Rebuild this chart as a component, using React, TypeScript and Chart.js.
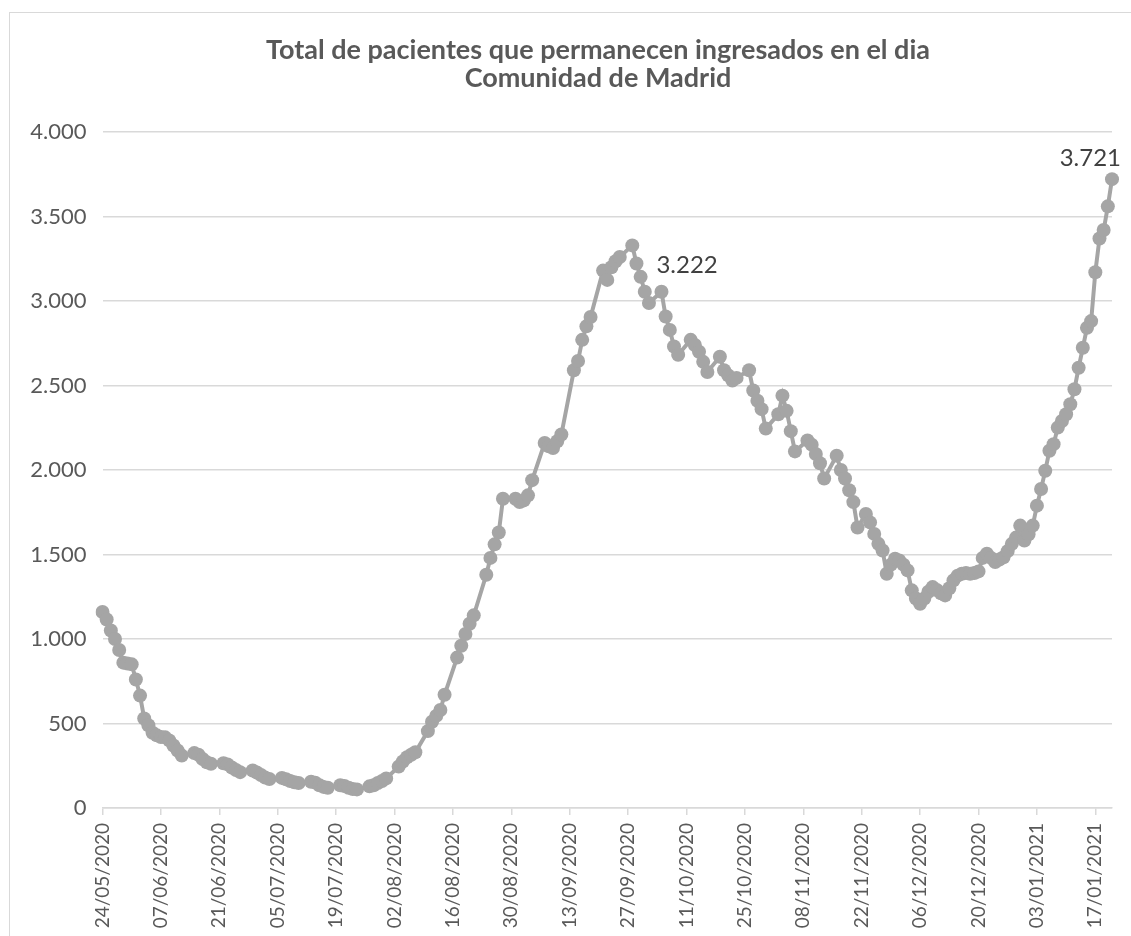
import React, { useEffect, useRef } from "react";
import { Chart, registerables } from "chart.js";

Chart.register(...registerables);

// ---------- text ----------
const TITLE_LINES = [
  "Total de pacientes que permanecen ingresados en el dia",
  "Comunidad de Madrid",
];

// ---------- categories ----------
const START_DAY = { year: 2020, month: 5, day: 24 }; // 24/05/2020, one category per day
const LABEL_EVERY = 14; // a tick label every 14 days

// ---------- y axis ----------
const Y_MIN = 0;
const Y_MAX = 4000;
const Y_STEP = 500;

// ---------- series: patients in hospital (null = no report that day) ----------
const ingresados: (number | null)[] = [
  // 24/05 - 30/05
  1160, 1115, 1050, 1000, 935, 860, 855,
  // 31/05 - 06/06
  850, 760, 665, 530, 490, 445, 430,
  // 07/06 - 13/06
  420, 418, 400, 370, 340, 310, null,
  // 14/06 - 20/06
  null, 325, 315, 290, 270, 262, null,
  // 21/06 - 27/06
  null, 265, 258, 240, 225, 212, null,
  // 28/06 - 04/07
  null, 222, 210, 195, 180, 172, null,
  // 05/07 - 11/07
  null, 178, 170, 160, 152, 148, null,
  // 12/07 - 18/07
  null, 155, 150, 135, 125, 120, null,
  // 19/07 - 25/07
  null, 135, 130, 120, 112, 110, null,
  // 26/07 - 01/08
  null, 128, 135, 148, 160, 175, null,
  // 02/08 - 08/08
  null, 245, 275, 300, 315, 330, null,
  // 09/08 - 15/08
  null, 455, 510, 545, 580, 670, null,
  // 16/08 - 22/08
  null, 890, 960, 1030, 1090, 1140, null,
  // 23/08 - 29/08
  null, 1380, 1480, 1560, 1630, 1830, null,
  // 30/08 - 05/09
  null, 1830, 1810, 1820, 1850, 1940, null,
  // 06/09 - 12/09
  null, 2160, 2140, 2130, 2170, 2210, null,
  // 13/09 - 19/09
  null, 2590, 2645, 2770, 2850, 2905, null,
  // 20/09 - 26/09
  null, 3180, 3125, 3200, 3235, 3260, null,
  // 27/09 - 03/10
  null, 3329, 3222, 3143, 3055, 2988, null,
  // 04/10 - 10/10
  null, 3055, 2908, 2829, 2731, 2682, null,
  // 11/10 - 17/10
  null, 2770, 2740, 2700, 2640, 2580, null,
  // 18/10 - 24/10
  null, 2670, 2590, 2560, 2530, 2545, null,
  // 25/10 - 31/10
  null, 2590, 2470, 2410, 2360, 2245, null,
  // 01/11 - 07/11
  null, 2330, 2440, 2350, 2230, 2110, null,
  // 08/11 - 14/11
  null, 2175, 2150, 2095, 2040, 1950, null,
  // 15/11 - 21/11
  null, 2085, 2000, 1950, 1880, 1810, 1660,
  // 22/11 - 28/11
  null, 1740, 1690, 1622, 1563, 1524, 1386,
  // 29/11 - 05/12
  1440, 1475, 1465, 1440, 1406, 1288, 1240,
  // 06/12 - 12/12
  1209, 1240, 1280, 1307, 1290, 1270, 1258,
  // 13/12 - 19/12
  1300, 1347, 1375, 1386, 1390, 1386, 1390,
  // 20/12 - 26/12
  1400, 1480, 1504, 1480, 1455, 1470, 1484,
  // 27/12 - 02/01
  1520, 1563, 1600, 1671, 1583, 1620, 1671,
  // 03/01 - 09/01
  1789, 1888, 1996, 2114, 2153, 2251, 2290,
  // 10/01 - 16/01
  2330, 2389, 2478, 2605, 2723, 2841, 2881,
  // 17/01 - 21/01
  3170, 3370, 3420, 3560, 3721,
];

// data labels shown on the chart
const LABELLED_INDEX = [128, 242];
const LABELLED_POSITION = ["right", "above"];

// ---------- styling ----------
const FONT = "Lato, 'Open Sans', sans-serif";
const TEXT_COLOR = "#595959";
const LINE_COLOR = "#A5A5A5";
const GRID_COLOR = "#D9D9D9";

function pad2(n: number) {
  return n < 10 ? "0" + n : String(n);
}

function buildDateLabels(count: number): string[] {
  const out: string[] = [];
  for (let i = 0; i < count; i++) {
    const d = new Date(Date.UTC(START_DAY.year, START_DAY.month - 1, START_DAY.day + i));
    out.push(pad2(d.getUTCDate()) + "/" + pad2(d.getUTCMonth() + 1) + "/" + d.getUTCFullYear());
  }
  return out;
}

function fmtThousands(n: number): string {
  return String(Math.round(n)).replace(/\B(?=(\d{3})+(?!\d))/g, ".");
}

export default function App() {
  const canvasRef = useRef<HTMLCanvasElement | null>(null);

  useEffect(() => {
    const canvas = canvasRef.current;
    if (!canvas) return;
    const labels = buildDateLabels(ingresados.length);

    const titlePlugin = {
      id: "excelTitle",
      afterDraw(chart: any) {
        const ctx = chart.ctx;
        ctx.save();
        ctx.fillStyle = TEXT_COLOR;
        ctx.font = `bold 27px ${FONT}`;
        ctx.textAlign = "center";
        ctx.textBaseline = "middle";
        ctx.fillText(TITLE_LINES[0], 598, 50);
        ctx.fillText(TITLE_LINES[1], 598, 78);
        ctx.restore();
      },
    };

    const dataLabelPlugin = {
      id: "pointLabels",
      afterDatasetsDraw(chart: any) {
        const meta = chart.getDatasetMeta(0);
        const ctx = chart.ctx;
        ctx.save();
        ctx.fillStyle = "#404040";
        ctx.font = `24px ${FONT}`;
        ctx.textBaseline = "middle";
        LABELLED_INDEX.forEach((idx, k) => {
          const pt = meta.data[idx];
          const v = ingresados[idx];
          if (!pt || v == null) return;
          const txt = fmtThousands(v);
          if (LABELLED_POSITION[k] === "right") {
            ctx.textAlign = "left";
            ctx.fillText(txt, pt.x + 20, pt.y + 2);
          } else {
            ctx.textAlign = "right";
            ctx.fillText(txt, pt.x + 9, pt.y - 21);
          }
        });
        ctx.restore();
      },
    };

    const chart = new Chart(canvas, {
      type: "line",
      data: {
        labels,
        datasets: [
          {
            label: "Ingresados",
            data: ingresados,
            borderColor: LINE_COLOR,
            backgroundColor: LINE_COLOR,
            borderWidth: 4,
            pointRadius: 7,
            pointBorderWidth: 0,
            pointBackgroundColor: LINE_COLOR,
            pointHoverRadius: 7,
            spanGaps: true,
            tension: 0,
          },
        ],
      },
      options: {
        responsive: false,
        animation: false,
        devicePixelRatio: 1,
        layout: { padding: { top: 132, right: 19, left: 0, bottom: 0 } },
        plugins: {
          legend: { display: false },
          title: { display: false },
          tooltip: { enabled: false },
        },
        scales: {
          x: {
            type: "category",
            offset: false,
            border: { display: true, color: GRID_COLOR, width: 1.5 },
            grid: {
              drawOnChartArea: false,
              drawTicks: true,
              tickLength: 7,
              lineWidth: 1.5,
              color: (c: any) => (c.index % LABEL_EVERY === 0 ? GRID_COLOR : "rgba(0,0,0,0)"),
            },
            ticks: {
              autoSkip: false,
              minRotation: 90,
              maxRotation: 90,
              padding: 8,
              color: TEXT_COLOR,
              font: { family: FONT, size: 19 },
              callback: (_v: any, i: number) => (i % LABEL_EVERY === 0 ? labels[i] : ""),
            },
            afterFit: (scale: any) => {
              scale.height = 128;
              scale.paddingLeft = 0;
              scale.paddingRight = 0;
            },
          },
          y: {
            min: Y_MIN,
            max: Y_MAX,
            border: { display: false },
            grid: { color: GRID_COLOR, lineWidth: 1.5, drawTicks: false },
            ticks: {
              stepSize: Y_STEP,
              padding: 16,
              color: TEXT_COLOR,
              font: { family: FONT, size: 22 },
              callback: (v: any) => fmtThousands(Number(v)),
            },
            afterFit: (scale: any) => {
              scale.width = 102.5;
            },
          },
        },
      },
      plugins: [titlePlugin, dataLabelPlugin],
    } as any);

    return () => chart.destroy();
  }, []);

  return (
    <div
      style={{
        position: "fixed",
        left: 0,
        top: 0,
        width: 1131,
        height: 936,
        overflow: "hidden",
        background: "#ffffff",
      }}
    >
      <div
        style={{
          position: "absolute",
          left: 9,
          top: 12,
          width: 1200,
          height: 1000,
          border: "1px solid #D9D9D9",
          boxSizing: "border-box",
        }}
      />
      <canvas
        ref={canvasRef}
        width={1131}
        height={936}
        style={{ position: "absolute", left: 0, top: 0 }}
      />
    </div>
  );
}
